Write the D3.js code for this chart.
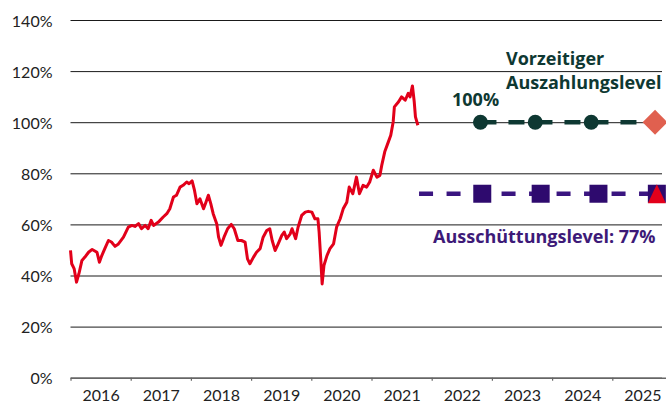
<!DOCTYPE html>
<html>
<head>
<meta charset="utf-8">
<script src="https://cdn.jsdelivr.net/npm/d3@7"></script>
<style>
  body { margin: 0; background: #fff; }
  svg { display: block; font-family: Lato, "Open Sans", sans-serif; }
</style>
</head>
<body>
<svg id="chart"></svg>
<script>
// values
const yTicks = [0, 20, 40, 60, 80, 100, 120, 140];
const yearTicks = [2016, 2017, 2018, 2019, 2020, 2021, 2022, 2023, 2024, 2025, 2026];
const yearLabels = ["2016", "2017", "2018", "2019", "2020", "2021", "2022", "2023", "2024", "2025"];

// performance of the underlying, in % (time as decimal year)
const perfTimes = [
  2016.00, 2016.02, 2016.06, 2016.10, 2016.14, 2016.19, 2016.24, 2016.30, 2016.36, 2016.44,
  2016.48, 2016.52, 2016.57, 2016.63, 2016.68, 2016.74, 2016.79, 2016.88, 2016.96, 2017.02,
  2017.07, 2017.13, 2017.18, 2017.24, 2017.29, 2017.34, 2017.38, 2017.46, 2017.54, 2017.60,
  2017.65, 2017.71, 2017.76, 2017.82, 2017.87, 2017.93, 2017.97, 2018.02, 2018.06, 2018.10,
  2018.15, 2018.21, 2018.25, 2018.29, 2018.33, 2018.37, 2018.43, 2018.46, 2018.50, 2018.55,
  2018.61, 2018.67, 2018.72, 2018.78, 2018.84, 2018.90, 2018.94, 2018.98, 2019.04, 2019.09,
  2019.15, 2019.20, 2019.26, 2019.31, 2019.35, 2019.40, 2019.45, 2019.51, 2019.55, 2019.59,
  2019.65, 2019.68, 2019.74, 2019.78, 2019.84, 2019.90, 2019.95, 2020.01, 2020.06, 2020.11,
  2020.13, 2020.16, 2020.18, 2020.21, 2020.26, 2020.31, 2020.37, 2020.42, 2020.48, 2020.53,
  2020.59, 2020.63, 2020.69, 2020.75, 2020.80, 2020.86, 2020.92, 2020.97, 2021.03, 2021.09,
  2021.14, 2021.17, 2021.22, 2021.28, 2021.32, 2021.36, 2021.38, 2021.45, 2021.50, 2021.56,
  2021.61, 2021.64, 2021.68, 2021.71, 2021.73, 2021.77
];
const perfValues = [
  49.8, 44.6, 42.7, 37.4, 40.7, 45.9, 47.2, 49.1, 50.2, 49.1,
  45.2, 47.8, 50.5, 53.7, 53.1, 51.4, 52.2, 55.0, 58.9, 59.6,
  59.2, 60.3, 58.3, 59.6, 58.3, 61.6, 59.6, 60.9, 62.9, 64.2,
  66.1, 70.7, 71.4, 74.6, 75.3, 76.6, 75.9, 77.0, 73.3, 68.1,
  70.0, 66.1, 68.7, 71.4, 68.1, 64.2, 60.2, 55.0, 51.8, 55.0,
  58.3, 60.0, 58.3, 53.7, 53.7, 53.1, 46.5, 44.6, 47.2, 49.1,
  50.5, 55.0, 57.6, 58.3, 53.7, 49.8, 52.4, 55.7, 57.0, 54.4,
  56.3, 58.3, 54.4, 58.9, 63.5, 64.8, 65.1, 64.8, 62.2, 62.2,
  57.0, 45.2, 36.7, 43.9, 47.8, 50.5, 52.4, 58.9, 62.2, 66.1,
  68.7, 74.6, 72.0, 78.5, 72.0, 75.3, 74.6, 76.6, 81.2, 78.5,
  79.2, 83.1, 88.4, 92.3, 94.9, 100.1, 106.0, 108.0, 109.9, 108.6,
  111.3, 109.9, 114.2, 108.0, 102.1, 98.8
];

// early redemption level
const callTimes = [2022.81, 2023.72, 2024.65];
const callFinalTime = 2025.71;
const callLevel = 100;

// coupon level
const couponStart = 2021.79;
const couponTimes = [2022.84, 2023.81, 2024.77, 2025.74];
const couponLevel = 72;

const width = 666, height = 404;
const margin = { top: 20, left: 70.5 };
const innerW = 602, innerH = 357.7;

const svg = d3.select("#chart").attr("width", width).attr("height", height);
const g = svg.append("g").attr("transform", `translate(${margin.left},${margin.top})`);

const x = d3.scaleLinear().domain([2016, 2026]).range([0, innerW]);
const y = d3.scaleLinear().domain([0, 140]).range([innerH, 0]);

// gridlines + y labels
const yAxis = d3.axisLeft(y)
  .tickValues(yTicks)
  .tickFormat((d) => d + "%")
  .tickSize(-591.5)
  .tickPadding(18);
const yg = g.append("g").call(yAxis);
yg.select(".domain").remove();
yg.selectAll(".tick line").attr("stroke", "#1a1a1a").attr("stroke-width", 1);
yg.selectAll(".tick text")
  .attr("font-size", 16).attr("fill", "#222").attr("dy", "0.38em")
  .style("font-family", "Lato, sans-serif");
yg.selectAll(".tick").filter((d) => d === 0).select("line").attr("stroke", "#666").attr("stroke-width", 1.5);

// x axis ticks
const xAxis = d3.axisBottom(x).tickValues(yearTicks).tickFormat("").tickSize(3).tickSizeOuter(0);
const xg = g.append("g").attr("transform", `translate(0,${innerH})`).call(xAxis);
xg.select(".domain").attr("stroke", "#666").attr("stroke-width", 1.5);
xg.selectAll(".tick line").attr("stroke", "#666").attr("stroke-width", 1.2);

// year labels centered in each year
const labelAxis = d3.axisBottom(x)
  .tickValues(yearLabels.map((d) => +d + 0.5))
  .tickFormat((d) => String(Math.floor(d)))
  .tickSize(0)
  .tickPadding(12);
const lg = g.append("g").attr("transform", `translate(0,${innerH})`).call(labelAxis);
lg.select(".domain").remove();
lg.selectAll("text").attr("font-size", 16).attr("fill", "#222").style("font-family", "Lato, sans-serif");

// performance line
const perf = perfTimes.map((t, i) => ({ t, v: perfValues[i] }));
g.append("path")
  .datum(perf)
  .attr("fill", "none")
  .attr("stroke", "#e2001a")
  .attr("stroke-width", 3)
  .attr("stroke-linejoin", "round")
  .attr("d", d3.line().x((d) => x(d.t)).y((d) => y(d.v)));

// coupon dashed line
const purple = "#2e0a6e";
g.append("line")
  .attr("x1", x(couponStart)).attr("x2", innerW + 10)
  .attr("y1", y(couponLevel)).attr("y2", y(couponLevel))
  .attr("stroke", "#3a1580").attr("stroke-width", 4.5)
  .attr("stroke-dasharray", "14,13.5");

g.selectAll(".coupon")
  .data(couponTimes)
  .join("rect")
  .attr("class", "coupon")
  .attr("x", (d) => x(d) - 9)
  .attr("y", y(couponLevel) - 9)
  .attr("width", 18).attr("height", 18)
  .attr("fill", purple);

// triangle on the last coupon date
const tri = couponTimes[couponTimes.length - 1];
g.append("path")
  .attr("transform", `translate(${x(tri)},${y(couponLevel)})`)
  .attr("d", "M0,-9.5L9,9.5L-9,9.5Z")
  .attr("fill", "#e3001b");

// early redemption dashed line
const green = "#0e3832";
g.append("line")
  .attr("x1", x(callTimes[0])).attr("x2", x(callFinalTime))
  .attr("y1", y(callLevel)).attr("y2", y(callLevel))
  .attr("stroke", green).attr("stroke-width", 4.5)
  .attr("stroke-dasharray", "16,12");

g.selectAll(".call")
  .data(callTimes)
  .join("circle")
  .attr("class", "call")
  .attr("cx", (d) => x(d))
  .attr("cy", y(callLevel))
  .attr("r", 7.5)
  .attr("fill", green);

g.append("path")
  .attr("transform", `translate(${x(callFinalTime)},${y(callLevel)})`)
  .attr("d", "M0,-12.5L12.5,0L0,12.5L-12.5,0Z")
  .attr("fill", "#e0604f");

// annotations
const ann = svg.append("g")
  .attr("font-weight", "bold")
  .attr("font-size", 18)
  .style("font-family", "'Open Sans', sans-serif");
ann.append("text").attr("x", 506).attr("y", 65).attr("fill", green).text("Vorzeitiger");
ann.append("text").attr("x", 506).attr("y", 89).attr("fill", green).text("Auszahlungslevel");
ann.append("text").attr("x", 452).attr("y", 105.7).attr("fill", green).text("100%");
ann.append("text").attr("x", 433).attr("y", 243.3).attr("fill", "#3d1a78").text("Ausschüttungslevel: 77%");
</script>
</body>
</html>
